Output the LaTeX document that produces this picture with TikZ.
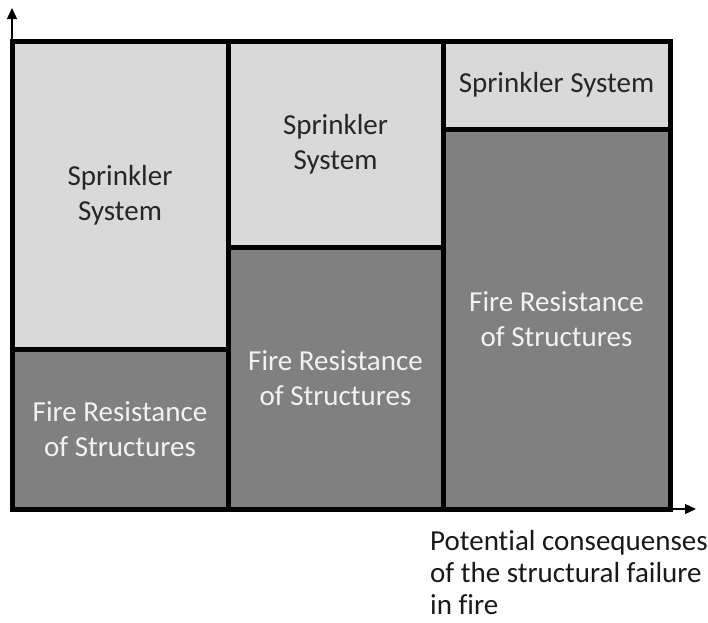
\documentclass[tikz,border=0pt]{standalone}
\usepackage{fontspec}
\setmainfont[Ligatures=NoCommon]{Carlito}
\usetikzlibrary{arrows.meta}
\definecolor{lightfill}{HTML}{D9D9D9}
\definecolor{darkfill}{HTML}{808080}
\definecolor{darktext}{HTML}{262626}
\definecolor{lighttext}{HTML}{F2F2F2}
\tikzset{
  frame/.style={line width=5pt, line join=miter},
  axis/.style={line width=1.3pt, -{Triangle[length=11pt,width=10pt]}},
  lbl/.style={align=center, font=\fontsize{29}{35}\selectfont},
  onlight/.style={lbl, text=darktext},
  ondark/.style={lbl, text=lighttext},
}
\begin{document}
\begin{tikzpicture}[x=1pt,y=-1pt]
\useasboundingbox (0,0) rectangle (708,622);
% regions
\fill[lightfill] (12,41) rectangle (228,349);
\fill[darkfill] (12,349) rectangle (228,509);
\fill[lightfill] (228,41) rectangle (443,247);
\fill[darkfill] (228,247) rectangle (443,509);
\fill[lightfill] (443,41) rectangle (670,129);
\fill[darkfill] (443,129) rectangle (670,509);
% axes
\coordinate (o) at (12,509);
\coordinate (ytip) at (12,8);
\coordinate (xtip) at (696,509);
\draw[axis] (o) -- (ytip);
\draw[axis] (o) -- (xtip);
% frame and dividers
\draw[frame] (12,41) rectangle (670,509);
\draw[frame] (228,41) -- (228,509);
\draw[frame] (443,41) -- (443,509);
\draw[frame] (12,349) -- (228,349);
\draw[frame] (228,247) -- (443,247);
\draw[frame] (443,129) -- (670,129);
% labels
\node[onlight] (s1) at (120,195) {Sprinkler\\System};
\node[onlight] (s2) at (335.5,144) {Sprinkler\\System};
\node[onlight] (s3) at (556.5,85) {Sprinkler System};
\node[ondark] (f1) at (120,429) {Fire Resistance\\of Structures};
\node[ondark] (f2) at (335.5,378) {Fire Resistance\\of Structures};
\node[ondark] (f3) at (556.5,319) {Fire Resistance\\of Structures};
\node[align=left, anchor=north west, inner sep=0pt, text=black!90,
      font=\fontsize{29}{32}\selectfont] (xl) at (430,530)
  {Potential consequenses\\of the structural failure\\in fire};
\end{tikzpicture}
\end{document}
